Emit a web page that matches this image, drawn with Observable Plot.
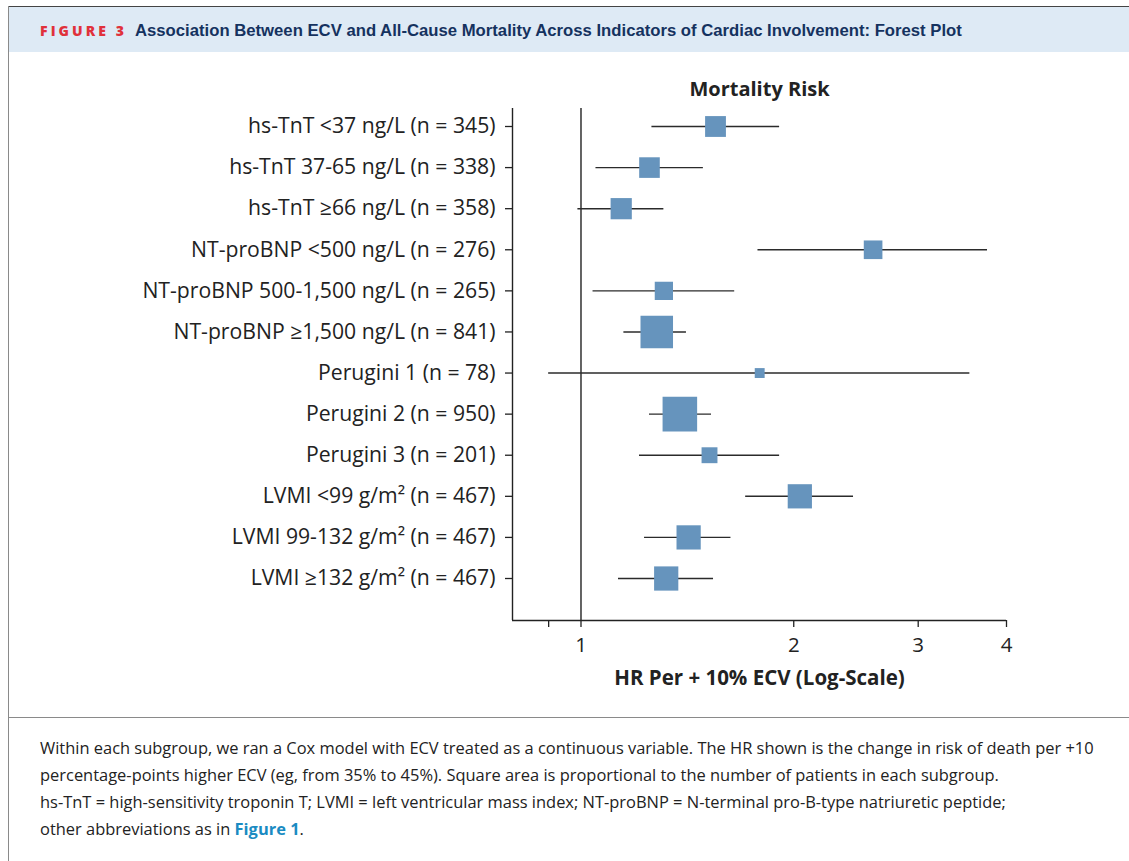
<!DOCTYPE html>
<html>
<head>
<meta charset="utf-8">
<script src="https://cdn.jsdelivr.net/npm/d3@7"></script>
<script src="https://cdn.jsdelivr.net/npm/@observablehq/plot@0.6"></script>
<style>
  html, body { margin: 0; padding: 0; background: #fff; }
  body { width: 1129px; height: 861px; position: relative; overflow: hidden; font-family: "Open Sans", "Noto Sans", sans-serif; color: #222; }
  #topline { position: absolute; left: 8px; right: 0; top: 6px; height: 0; border-top: 1.5px solid #444; }
  #leftline { position: absolute; left: 8px; top: 6px; bottom: 0; width: 0; border-left: 1.5px solid #8a8a8a; }
  #header { position: absolute; left: 9px; right: 0; top: 7px; height: 45px; background: #deeaf5; }
  #header .fig { position: absolute; left: 31px; top: 15px; font-family: "Open Sans", sans-serif; font-weight: 800; font-size: 14px; line-height: 18px; letter-spacing: 3.1px; color: #e0313b; }
  #header .title { position: absolute; left: 126px; top: 14px; font-family: "Liberation Sans", Arial, sans-serif; font-weight: 700; font-size: 16.7px; line-height: 20px; color: #15325f; white-space: nowrap; }
  #sep { position: absolute; left: 8px; right: 0; top: 717px; border-top: 1.5px solid #8a8a8a; }
  #chart { position: absolute; left: 0; top: 60px; }
  #caption { position: absolute; left: 40px; top: 734px; width: 1085px; font-size: 16.45px; line-height: 27px; color: #222; white-space: nowrap; }
  #caption b { color: #1a8bc2; }
</style>
</head>
<body>
<div id="topline"></div>
<div id="header"><span class="fig">FIGURE 3</span><span class="title">Association Between ECV and All-Cause Mortality Across Indicators of Cardiac Involvement: Forest Plot</span></div>
<div id="leftline"></div>
<div id="chart"></div>
<div id="sep"></div>
<div id="caption">Within each subgroup, we ran a Cox model with ECV treated as a continuous variable. The HR shown is the change in risk of death per +10<br>percentage-points higher ECV (eg, from 35% to 45%). Square area is proportional to the number of patients in each subgroup.<br>hs-TnT = high-sensitivity troponin T; LVMI = left ventricular mass index; NT-proBNP = N-terminal pro-B-type natriuretic peptide;<br>other abbreviations as in <b>Figure 1</b>.</div>
<script>
const subgroups = ["hs-TnT <37 ng/L", "hs-TnT 37-65 ng/L", "hs-TnT \u226566 ng/L", "NT-proBNP <500 ng/L", "NT-proBNP 500-1,500 ng/L", "NT-proBNP \u22651,500 ng/L", "Perugini 1", "Perugini 2", "Perugini 3", "LVMI <99 g/m\u00b2", "LVMI 99-132 g/m\u00b2", "LVMI \u2265132 g/m\u00b2"];
const nPatients = [345, 338, 358, 276, 265, 841, 78, 950, 201, 467, 467, 467];
const hr = [1.55, 1.25, 1.14, 2.59, 1.31, 1.28, 1.79, 1.38, 1.52, 2.04, 1.42, 1.32];
const ciLow = [1.26, 1.05, 0.99, 1.78, 1.04, 1.15, 0.90, 1.25, 1.21, 1.71, 1.23, 1.13];
const ciHigh = [1.91, 1.49, 1.31, 3.76, 1.65, 1.41, 3.55, 1.53, 1.91, 2.43, 1.63, 1.54];
const xTicks = [0.9, 1, 2, 3, 4];
const xTickLabels = ["", "1", "2", "3", "4"];

const rows = subgroups.map((s, i) => ({
  i, label: `${s} (n = ${nPatients[i]})`, n: nPatients[i], hr: hr[i], lo: ciLow[i], hi: ciHigh[i]
}));
const labels = rows.map(d => d.label);

const width = 1129, height = 640, marginTop = 48, marginBottom = 80;
const yLo = -0.438, yHi = 12.022;

const chart = Plot.plot({
  width, height,
  marginLeft: 512, marginRight: 123, marginTop, marginBottom,
  style: { fontFamily: "'Open Sans', 'Noto Sans', sans-serif", color: "#222", background: "transparent", overflow: "visible" },
  x: { type: "log", domain: [0.8, 4], range: [512, 1006] },
  y: { domain: [yLo, yHi], range: [marginTop, height - marginBottom] },
  r: { type: "sqrt", domain: [0, 950], range: [0, 19.5] },
  marks: [
    Plot.axisY({ ticks: d3.range(subgroups.length), tickFormat: i => labels[i], tickSize: 7, tickPadding: 10, fontSize: 21.2, label: null, stroke: "#222", strokeWidth: 1.3 }),
    Plot.axisX({ ticks: xTicks, tickFormat: (d) => xTickLabels[xTicks.indexOf(d)], tickSize: 7, tickPadding: 10, fontSize: 20.5, label: null, stroke: "#222", strokeWidth: 1.3 }),
    Plot.ruleX([0.8], { stroke: "#222", strokeWidth: 1.4 }),
    Plot.ruleY([yHi], { stroke: "#222", strokeWidth: 1.4 }),
    Plot.ruleX([1], { stroke: "#222", strokeWidth: 1.4 }),
    Plot.ruleY(rows, { y: "i", x1: "lo", x2: "hi", stroke: "#2b2b2b", strokeWidth: 1.4 }),
    Plot.dot(rows, { x: "hr", y: "i", r: "n", symbol: "square", fill: "#6694bd", stroke: "none" }),
    Plot.text(["Mortality Risk"], { frameAnchor: "top", dy: -27, fontSize: 20, fontWeight: "bold", fill: "#222" }),
    Plot.text(["HR Per + 10% ECV (Log-Scale)"], { frameAnchor: "bottom", dy: 64, fontSize: 20.5, fontWeight: "bold", fill: "#222" })
  ]
});
document.getElementById("chart").appendChild(chart);
</script>
</body>
</html>
